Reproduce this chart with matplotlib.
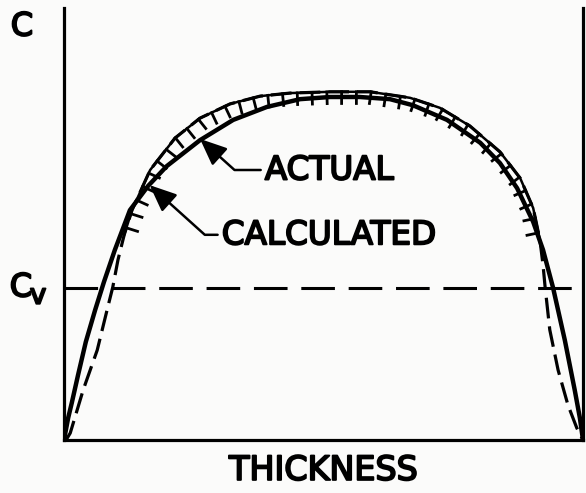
import numpy as np
import matplotlib
matplotlib.use("Agg")
import matplotlib.pyplot as plt
import matplotlib.patheffects as pe

# ---- data (normalised thickness 0..1, concentration 0..1) ----
calc_x = [0.000, 0.008, 0.015, 0.027, 0.042, 0.060, 0.077, 0.098, 0.127, 0.162,
          0.198, 0.262, 0.326, 0.391, 0.455, 0.513, 0.570, 0.628, 0.672, 0.738,
          0.802, 0.840, 0.873, 0.904, 0.923, 0.942, 0.965, 0.984, 0.994, 1.000]
calc_y = [0.000, 0.051, 0.086, 0.150, 0.227, 0.301, 0.366, 0.440, 0.532, 0.588,
          0.634, 0.694, 0.741, 0.771, 0.789, 0.794, 0.794, 0.789, 0.775, 0.741,
          0.688, 0.641, 0.583, 0.505, 0.440, 0.354, 0.231, 0.116, 0.051, 0.000]

act_x = [0.004, 0.012, 0.037, 0.064, 0.083, 0.094, 0.104, 0.116, 0.131, 0.166,
         0.214, 0.262, 0.320, 0.378, 0.435, 0.513, 0.590, 0.667, 0.724, 0.782,
         0.840, 0.879, 0.904, 0.917, 0.923, 0.927, 0.936, 0.952, 0.971, 0.988, 1.000]
act_y = [0.000, 0.016, 0.116, 0.208, 0.301, 0.354, 0.417, 0.475, 0.532, 0.625,
         0.699, 0.745, 0.778, 0.796, 0.803, 0.806, 0.806, 0.792, 0.769, 0.727,
         0.667, 0.606, 0.537, 0.463, 0.405, 0.354, 0.255, 0.162, 0.081, 0.028, 0.000]

cv_level = 0.352

labels = {"actual": "ACTUAL", "calc": "CALCULATED", "x": "THICKNESS", "y": "C"}

# ---- figure ----
W, H = 586, 493
fig = plt.figure(figsize=(W / 100, H / 100), dpi=100)
fig.patch.set_facecolor("#fbfbfa")
ax = fig.add_axes([64 / W, 53 / H, 519 / W, 432 / H])
ax.set_facecolor("none")
ax.set_xlim(0, 1)
ax.set_ylim(0, 1)
ax.set_xticks([])
ax.set_yticks([])
ax.spines["top"].set_visible(False)
for s in ("left", "bottom", "right"):
    ax.spines[s].set_linewidth(2.3)
    ax.spines[s].set_color("black")

thick = [pe.withStroke(linewidth=1.4, foreground="black")]
font = dict(family="DejaVu Sans", color="black")

# calculated curve (solid)
ax.plot(calc_x, calc_y, color="black", lw=3.2, solid_capstyle="round",
        solid_joinstyle="round", zorder=3)

# actual curve (dashed) with ladder ticks in upper part
ax.plot(act_x, act_y, color="black", lw=2.3, linestyle=(0, (6.5, 2.5)),
        dash_capstyle="butt", zorder=3)
ax_arr = np.array(act_x)
ay_arr = np.array(act_y)
mask = ay_arr >= 0.44
ax.plot(ax_arr[mask], ay_arr[mask], color="black", lw=1.8,
        path_effects=[pe.withTickedStroke(spacing=10.5, angle=-90, length=0.8,
                                          linewidth=2.0)], zorder=3)

# Cv dashed line
ax.axhline(cv_level, color="black", lw=2.2, linestyle=(0, (11, 4.5)),
           dash_capstyle="butt", zorder=2)

# annotations
arrow = dict(arrowstyle="-|>,head_length=0.7,head_width=0.3", color="black",
             lw=1.8, shrinkA=1, shrinkB=0,
             connectionstyle="angle,angleA=0,angleB=-42,rad=0")
ax.annotate(labels["actual"], xy=(0.262, 0.697), xytext=(0.387, 0.625),
            ha="left", va="center", fontsize=23.5, path_effects=thick,
            arrowprops=arrow, zorder=4, **font)
ax.annotate(labels["calc"], xy=(0.165, 0.590), xytext=(0.304, 0.475),
            ha="left", va="center", fontsize=23.5, path_effects=thick,
            arrowprops=arrow, zorder=4, **font)

# axis labels
ax.set_xlabel(labels["x"], fontsize=24, labelpad=10, path_effects=thick, **font)
ax.set_ylabel(labels["y"], fontsize=23, rotation=0, ha="center", va="center",
              path_effects=thick, **font)
ax.yaxis.set_label_coords(-0.081, 0.956)

ax.text(-0.083, cv_level, "C", transform=ax.get_yaxis_transform(),
        ha="center", va="center", fontsize=23, path_effects=thick, **font)
ax.text(-0.050, cv_level - 0.018, "v", transform=ax.get_yaxis_transform(),
        ha="center", va="center", fontsize=20, path_effects=thick, **font)

fig.savefig("out.png", dpi=100, facecolor=fig.get_facecolor())
